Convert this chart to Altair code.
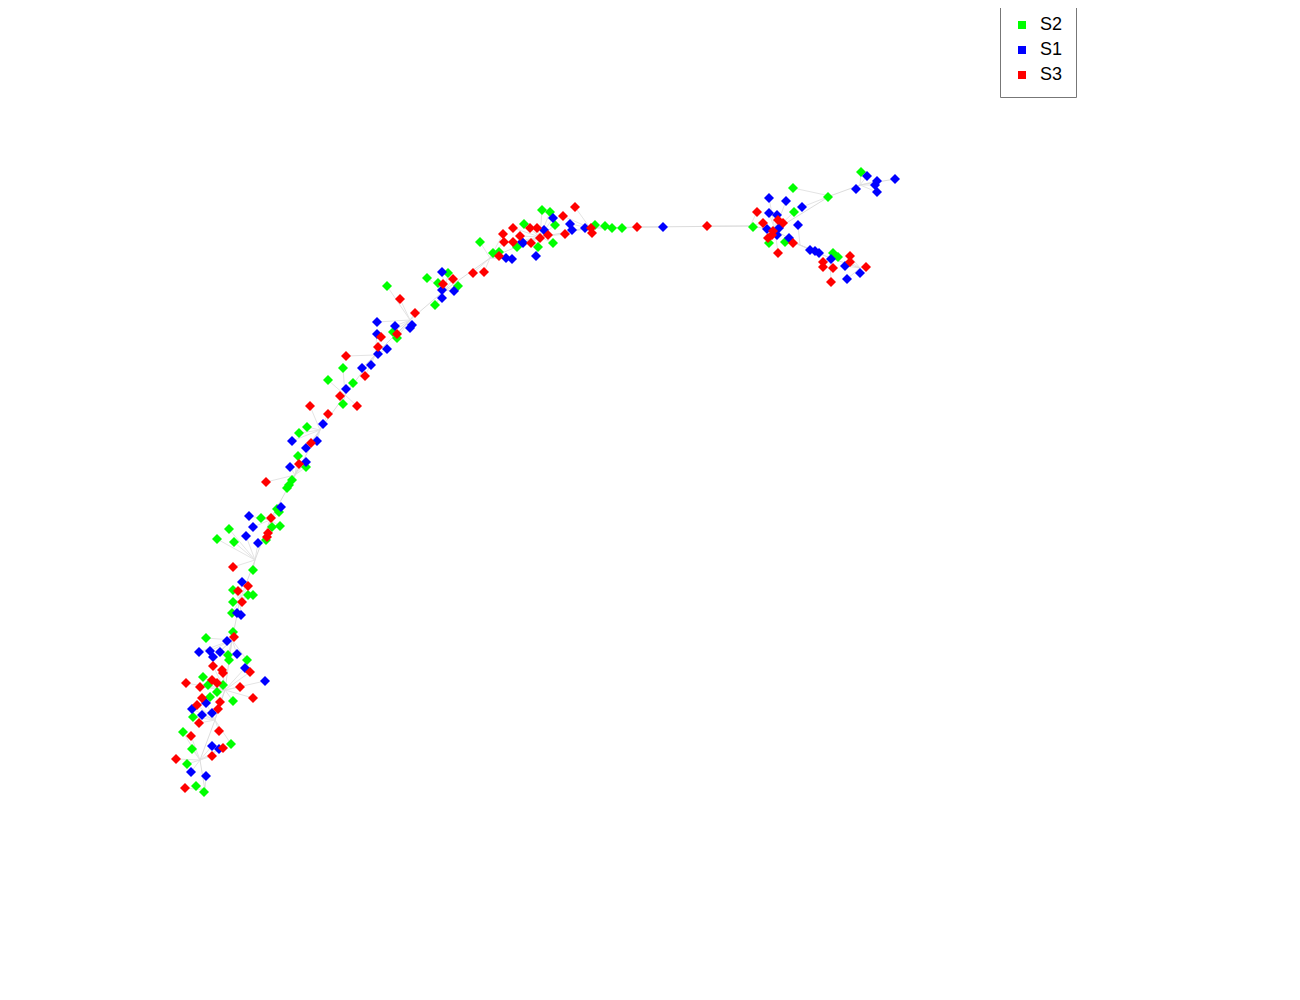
import altair as alt
import pandas as pd
import numpy as np

# ---- data (component units) ----
s2_x = [-3.34,-3.07,-3.12,-3.11,-2.93,-3.37,-3.32,-3.17,-3.23,-3.30,-3.07,-3.47,-3.57,-3.48,-3.09,-3.53,-3.44,-3.36,
        -2.33,-2.41,-2.42,-2.34,-2.48,-2.51,-2.53,-2.63,-2.61,-2.79,-3.11,-2.68,-2.60,-3.23,-3.06,-2.74,-2.87,-3.07,-2.92,-2.87,-3.07,-3.08,
        -1.53,-1.47,-1.43,-1.97,-2.12,-1.87,-1.97,
        0.02,0.10,-0.16,0.15,0.55,-0.23,-0.60,0.13,-0.02,-0.47,-0.41,-0.92,-1.13,-1.02,-0.82,-1.05,
        0.65,0.72,0.82,
        3.21,2.53,2.88,2.54,2.13,2.29,2.45,2.93,2.98]
s2_y = [-1.38,-1.32,-1.55,-1.60,-1.60,-1.77,-1.85,-1.85,-1.92,-1.97,-2.01,-2.17,-2.32,-2.49,-2.44,-2.64,-2.86,-2.92,
        0.73,0.67,0.44,0.33,0.20,0.15,0.12,-0.09,-0.12,-0.18,-0.29,-0.27,-0.26,-0.39,-0.42,-0.40,-0.70,-0.90,-0.95,-0.95,-1.02,-1.13,
        2.14,1.68,1.62,1.32,1.20,1.17,0.96,
        2.90,2.88,2.76,2.75,2.75,2.53,2.58,2.57,2.53,2.47,2.48,2.27,2.22,2.17,2.14,1.95,
        2.74,2.72,2.72,
        3.28,3.12,3.03,2.88,2.73,2.57,2.58,2.47,2.43]

s1_x = [-3.13,-3.41,-3.30,-3.20,-3.27,-3.03,-2.95,-2.75,-3.34,-3.48,-3.28,-3.38,-3.28,-3.21,-3.49,-3.34,
        -2.17,-2.48,-2.23,-2.34,-2.34,-2.50,-2.59,-2.91,-2.87,-2.94,-2.82,-2.98,-3.03,-2.99,
        -1.63,-1.45,-1.28,-1.30,-1.63,-1.53,-1.62,-1.69,-1.78,-1.94,
        0.13,0.30,0.32,0.45,0.04,-0.18,-0.17,-0.04,-0.34,-0.28,-0.98,-0.98,-0.86,-0.98,
        1.23,
        3.27,3.55,3.37,3.35,3.37,3.16,2.29,2.46,2.62,2.29,2.37,2.58,2.27,2.39,2.37,2.49,2.70,2.75,2.79,2.91,3.05,3.20,3.07]
s1_y = [-1.41,-1.52,-1.51,-1.52,-1.57,-1.54,-1.68,-1.81,-2.03,-2.09,-2.13,-2.15,-2.46,-2.49,-2.72,-2.76,
        0.76,0.59,0.59,0.52,0.38,0.33,-0.07,-0.16,-0.27,-0.36,-0.43,-0.82,-1.13,-1.15,
        1.78,1.74,1.75,1.72,1.66,1.51,1.46,1.35,1.32,1.11,
        2.82,2.76,2.70,2.72,2.70,2.58,2.57,2.44,2.42,2.41,2.28,2.10,2.09,2.02,
        2.73,
        3.24,3.21,3.19,3.15,3.08,3.11,3.02,2.99,2.93,2.87,2.85,2.75,2.71,2.72,2.65,2.62,2.50,2.49,2.47,2.41,2.34,2.27,2.21]

s3_x = [-3.06,-3.27,-3.18,-3.17,-2.90,-3.54,-3.28,-3.23,-3.40,-3.00,-2.87,-3.38,-3.20,-3.43,-3.22,-3.41,-3.49,-3.21,-3.17,-3.64,-3.28,-3.55,
        -2.29,-2.41,-2.74,-2.69,-2.72,-2.73,-3.07,-2.92,-3.02,-2.98,
        -1.40,-1.25,-1.59,-1.43,-1.62,-1.94,-1.75,-2.00,-2.30,-1.83,-2.12,
        0.35,0.23,-0.10,-0.03,0.51,0.52,0.25,-0.27,-0.37,-0.20,0.00,0.08,-0.36,-0.27,-0.09,-0.41,-0.67,-0.56,-0.87,-0.97,
        0.97,1.67,
        2.17,2.23,2.38,2.43,2.33,2.32,2.28,2.53,2.38,3.10,2.83,2.93,3.10,3.26,2.91,2.83]
s3_y = [-1.37,-1.66,-1.70,-1.73,-1.72,-1.83,-1.80,-1.83,-1.87,-1.87,-1.98,-1.98,-2.02,-2.05,-2.09,-2.23,-2.36,-2.31,-2.48,-2.59,-2.56,-2.88,
        0.57,0.36,0.18,-0.18,-0.33,-0.37,-0.67,-0.86,-0.91,-1.02,
        2.01,1.87,1.63,1.66,1.53,1.44,1.24,1.04,0.94,0.94,0.86,
        2.93,2.84,2.72,2.72,2.72,2.67,2.66,2.72,2.66,2.64,2.62,2.65,2.58,2.58,2.57,2.44,2.27,2.28,2.21,2.16,
        2.73,2.74,
        2.88,2.77,2.80,2.77,2.69,2.65,2.62,2.57,2.47,2.44,2.38,2.32,2.38,2.33,2.18,2.33]

# principal curve (trajectory)
path_x = [-3.35,-3.40,-3.25,-3.15,-3.08,-3.00,-2.85,-2.70,-2.45,-2.20,-1.95,-1.65,-1.30,-0.95,-0.50,0.00,0.50,1.00,2.10,2.35,2.60,2.90,3.20]
path_y = [-2.90,-2.60,-2.20,-1.90,-1.40,-1.00,-0.60,-0.20,0.25,0.70,1.05,1.45,1.80,2.10,2.42,2.63,2.72,2.73,2.74,2.70,2.55,2.42,2.32]
branch_x = [2.35,2.90,3.20,3.55]
branch_y = [2.70,3.04,3.15,3.21]

groups = ["S2", "S1", "S3"]
colors = ["#00ff00", "#0000ff", "#ff0000"]

pts = pd.concat([
    pd.DataFrame({"x": s2_x, "y": s2_y, "group": "S2"}),
    pd.DataFrame({"x": s1_x, "y": s1_y, "group": "S1"}),
    pd.DataFrame({"x": s3_x, "y": s3_y, "group": "S3"}),
], ignore_index=True)

curve = pd.concat([
    pd.DataFrame({"x": path_x, "y": path_y, "seg": "main", "o": range(len(path_x))}),
    pd.DataFrame({"x": branch_x, "y": branch_y, "seg": "branch", "o": range(len(branch_x))}),
], ignore_index=True)

# faint links: every cell to its nearest trajectory node
cx = np.array(path_x + branch_x)
cy = np.array(path_y + branch_y)
px = pts["x"].to_numpy()
py = pts["y"].to_numpy()
idx = np.argmin((px[:, None] - cx[None, :]) ** 2 + (py[:, None] - cy[None, :]) ** 2, axis=1)
links = pd.DataFrame({"x": px, "y": py, "x2": cx[idx], "y2": cy[idx]})

xs = alt.Scale(domain=[-5.32, 7.52], nice=False, zero=False)
ys = alt.Scale(domain=[-4.92, 4.92], nice=False, zero=False)

link_layer = alt.Chart(links).mark_rule(color="#e4e4e4", strokeWidth=1).encode(
    x=alt.X("x:Q", scale=xs, axis=None),
    y=alt.Y("y:Q", scale=ys, axis=None),
    x2="x2:Q",
    y2="y2:Q",
)

curve_layer = alt.Chart(curve).mark_line(color="#dcdcdc", strokeWidth=1).encode(
    x=alt.X("x:Q", scale=xs, axis=None),
    y=alt.Y("y:Q", scale=ys, axis=None),
    detail="seg:N",
    order="o:Q",
)

point_layer = alt.Chart(pts).mark_point(
    shape="diamond", filled=True, size=100, opacity=1, strokeWidth=0
).encode(
    x=alt.X("x:Q", scale=xs, axis=None),
    y=alt.Y("y:Q", scale=ys, axis=None),
    color=alt.Color(
        "group:N",
        scale=alt.Scale(domain=groups, range=colors),
        legend=alt.Legend(
            title=None,
            orient="none",
            legendX=992,
            legendY=-5,
            padding=13,
            strokeColor="#777777",
            fillColor="white",
            symbolType="square",
            symbolSize=64,
            symbolStrokeWidth=0,
            symbolOpacity=1,
            labelFont="Liberation Sans",
            labelFontSize=18,
            labelColor="#000000",
            labelOffset=9,
            rowPadding=7,
        ),
    ),
)

chart = alt.layer(link_layer, curve_layer, point_layer).properties(
    width=1284,
    height=984,
    autosize=alt.AutoSizeParams(type="none"),
    padding=0,
).configure_view(stroke=None)

chart.save("out.html", embed_options={"renderer": "svg", "actions": False})
